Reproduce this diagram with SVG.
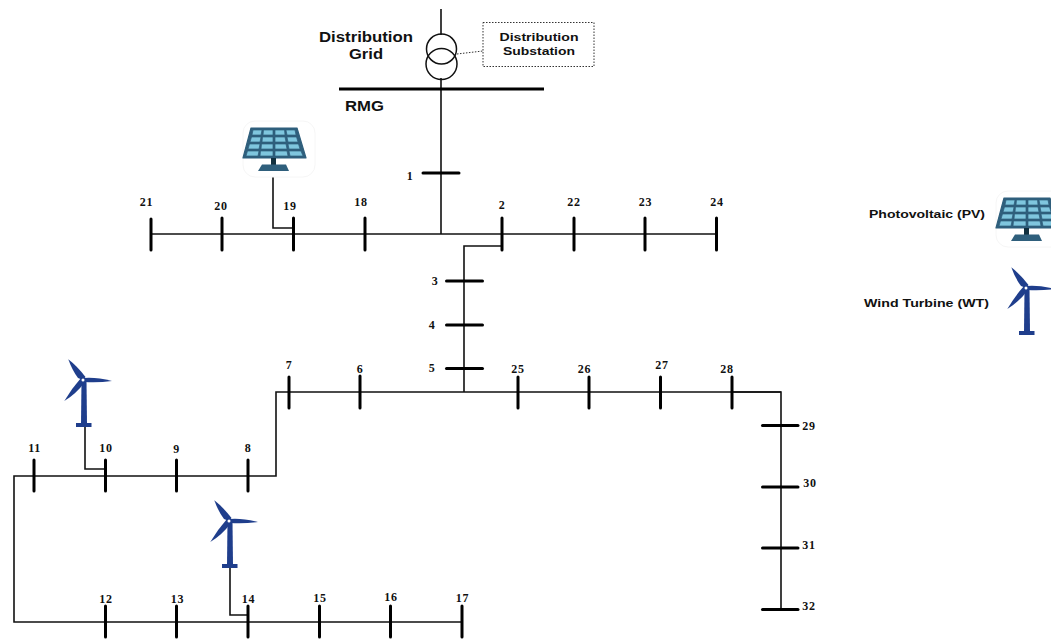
<svg xmlns="http://www.w3.org/2000/svg" xmlns:xlink="http://www.w3.org/1999/xlink" width="1051" height="640" viewBox="0 0 1051 640">
<style>
.wire{fill:none;stroke:#111;stroke-width:1.6}
.bus{stroke:#000;stroke-width:3;stroke-linecap:round}
.num{font-family:"Liberation Serif","Times New Roman",serif;font-weight:bold;font-size:12px;letter-spacing:.7px;text-anchor:middle;fill:#111}
.lab{font-family:"Liberation Sans",Arial,sans-serif;font-weight:bold;fill:#111}
.l13{font-size:14px}
.l11{font-size:11.5px}
</style>
<defs>
<g id="pv">
<rect x="243" y="121" width="72" height="56" rx="12" fill="#fff" stroke="#f6f6f6"/>
<polygon points="251,128 297,128 306,158 243,158" fill="#2f5f7c" stroke="#2f5f7c" stroke-width="1.200" stroke-linejoin="round"/>
<g fill="#7fc6de" stroke="#2f5f7c" stroke-width=".7">
<polygon points="253,130 262,130 261,135 252,135"/><polygon points="263.500,130 273,130 273,135 263,135"/><polygon points="275,130 284.500,130 285,135 275,135"/><polygon points="286,130 295,130 296,135 287,135"/>
<polygon points="251.500,137 261,137 260,142 250,142"/><polygon points="262.500,137 273,137 273,142 262,142"/><polygon points="275,137 285,137 286,142 275,142"/><polygon points="287,137 296.500,137 298,142 288,142"/>
<polygon points="249.500,144 260,144 259,149 248,149"/><polygon points="261.500,144 273,144 273,149 261,149"/><polygon points="275,144 286,144 287,149 275,149"/><polygon points="288,144 298.500,144 300,149 289,149"/>
<polygon points="247.500,151 259,151 258,156 246,156"/><polygon points="260.500,151 273,151 273,156 260,156"/><polygon points="275,151 287,151 288,156 275,156"/><polygon points="289,151 301,151 303,156 290,156"/>
</g>
<rect x="271" y="158" width="5" height="7" fill="#12303f"/>
<polygon points="262,164.500 286,164.500 289,171 258,171" fill="#2f5f7c"/>
</g>
<g id="wt" fill="#1f3e8c">
<polygon points="81.500,381 86.500,381 87,424 81,424"/>
<rect x="76" y="423" width="15.500" height="4"/>
<path d="M83,380 L78,378 Q72,370 68.300,359.300 Q77,366 85.500,377 Z"/>
<path d="M84,378 Q96,377 112,381 Q98,383 84,382 Z"/>
<path d="M81,378 L85,382 Q76,394 64.300,401 Q72,388 81,378 Z"/>
<circle cx="83" cy="380" r="1.500" fill="#fff"/>
</g>
</defs>
<rect width="1051" height="640" fill="#fff"/>

<g id="connectors">
<path class="wire" d="M441,9V35M441,78V234"/>
<path class="wire" d="M151,234H716"/>
<path class="wire" d="M273,170V228H293"/>
<path class="wire" d="M502,246H464V392"/>
<path class="wire" d="M732,392H781V609"/>
<path class="wire" d="M781,392H276V476H14V622H462"/>
<path class="wire" d="M85,426V469H105"/>
<path class="wire" d="M230,567V615H248"/>
<path d="M457,54L483,51" fill="none" stroke="#333" stroke-width="1" stroke-dasharray="1.500 1.500"/>
</g>

<g id="transformer"><circle cx="441.500" cy="49" r="15" fill="none" stroke="#111" stroke-width="1.500"/><circle cx="441.500" cy="64" r="15.500" fill="none" stroke="#111" stroke-width="1.500"/></g>
<g id="grid-label"><text class="lab l13" x="319" y="41.500" textLength="94" lengthAdjust="spacingAndGlyphs">Distribution</text><text class="lab l13" x="349" y="59" textLength="34" lengthAdjust="spacingAndGlyphs">Grid</text></g>
<g id="substation"><rect x="483" y="22.500" width="111" height="44" fill="#fff" stroke="#333" stroke-width="1" stroke-dasharray="1.500 1.500"/><text class="lab l11" x="499.500" y="41" textLength="79" lengthAdjust="spacingAndGlyphs">Distribution</text><text class="lab l11" x="503" y="55" textLength="72" lengthAdjust="spacingAndGlyphs">Substation</text></g>
<g id="rmg"><line x1="339" y1="89" x2="544" y2="89" stroke="#000" stroke-width="3"/><text class="lab l13" x="345" y="110.500" textLength="39" lengthAdjust="spacingAndGlyphs">RMG</text></g>

<g id="bus1"><line class="bus" x1="423" y1="173" x2="459" y2="173"/><text class="num" x="410" y="180">1</text></g>
<g id="bus2"><line class="bus" x1="502" y1="218" x2="502" y2="250"/><text class="num" x="502" y="209">2</text></g>
<g id="bus3"><line class="bus" x1="446.500" y1="281" x2="482.500" y2="281"/><text class="num" x="435" y="285">3</text></g>
<g id="bus4"><line class="bus" x1="446.500" y1="325" x2="482.500" y2="325"/><text class="num" x="432" y="329">4</text></g>
<g id="bus5"><line class="bus" x1="446.500" y1="368.500" x2="482.500" y2="368.500"/><text class="num" x="432" y="372">5</text></g>
<g id="bus6"><line class="bus" x1="360" y1="376" x2="360" y2="408"/><text class="num" x="360" y="373">6</text></g>
<g id="bus7"><line class="bus" x1="289" y1="377" x2="289" y2="408"/><text class="num" x="289" y="369">7</text></g>
<g id="bus8"><line class="bus" x1="248" y1="460" x2="248" y2="491"/><text class="num" x="248" y="452">8</text></g>
<g id="bus9"><line class="bus" x1="176.500" y1="460" x2="176.500" y2="491"/><text class="num" x="176.500" y="453">9</text></g>
<g id="bus10"><line class="bus" x1="105.500" y1="460" x2="105.500" y2="491"/><text class="num" x="106" y="452">10</text></g>
<g id="bus11"><line class="bus" x1="34" y1="460" x2="34" y2="491"/><text class="num" x="34.500" y="452">11</text></g>
<g id="bus12"><line class="bus" x1="105.500" y1="606" x2="105.500" y2="637"/><text class="num" x="106" y="603">12</text></g>
<g id="bus13"><line class="bus" x1="176.500" y1="606" x2="176.500" y2="637"/><text class="num" x="177.500" y="603">13</text></g>
<g id="bus14"><line class="bus" x1="248" y1="606" x2="248" y2="637"/><text class="num" x="248.500" y="603">14</text></g>
<g id="bus15"><line class="bus" x1="319.500" y1="606" x2="319.500" y2="637"/><text class="num" x="320" y="602">15</text></g>
<g id="bus16"><line class="bus" x1="390.500" y1="606" x2="390.500" y2="637"/><text class="num" x="391" y="601">16</text></g>
<g id="bus17"><line class="bus" x1="462" y1="606" x2="462" y2="637"/><text class="num" x="462.500" y="602">17</text></g>
<g id="bus18"><line class="bus" x1="365" y1="218" x2="365" y2="250"/><text class="num" x="361" y="206">18</text></g>
<g id="bus19"><line class="bus" x1="293.500" y1="218" x2="293.500" y2="250"/><text class="num" x="290" y="210">19</text></g>
<g id="bus20"><line class="bus" x1="222" y1="218" x2="222" y2="250"/><text class="num" x="221" y="210">20</text></g>
<g id="bus21"><line class="bus" x1="151" y1="219" x2="151" y2="250"/><text class="num" x="146.500" y="206">21</text></g>
<g id="bus22"><line class="bus" x1="574" y1="218" x2="574" y2="250"/><text class="num" x="574" y="206">22</text></g>
<g id="bus23"><line class="bus" x1="645" y1="218" x2="645" y2="250"/><text class="num" x="645.500" y="206">23</text></g>
<g id="bus24"><line class="bus" x1="716.500" y1="218" x2="716.500" y2="250"/><text class="num" x="717" y="206">24</text></g>
<g id="bus25"><line class="bus" x1="518" y1="377" x2="518" y2="408"/><text class="num" x="518" y="373">25</text></g>
<g id="bus26"><line class="bus" x1="589" y1="377" x2="589" y2="408"/><text class="num" x="584.500" y="373">26</text></g>
<g id="bus27"><line class="bus" x1="660.500" y1="377" x2="660.500" y2="408"/><text class="num" x="662" y="369">27</text></g>
<g id="bus28"><line class="bus" x1="732" y1="377" x2="732" y2="408"/><text class="num" x="727" y="373">28</text></g>
<g id="bus29"><line class="bus" x1="762.500" y1="425.500" x2="798" y2="425.500"/><text class="num" x="809" y="430">29</text></g>
<g id="bus30"><line class="bus" x1="762.500" y1="487" x2="798" y2="487"/><text class="num" x="810" y="487">30</text></g>
<g id="bus31"><line class="bus" x1="762.500" y1="548" x2="798" y2="548"/><text class="num" x="809" y="548.500">31</text></g>
<g id="bus32"><line class="bus" x1="762.500" y1="609.500" x2="798" y2="609.500"/><text class="num" x="809" y="610">32</text></g>

<g id="pv-19"><use href="#pv"/></g>
<g id="wt-10"><use href="#wt"/></g>
<g id="wt-14"><use href="#wt" transform="translate(146,141)"/></g>
<g id="legend-pv"><text class="lab l11" x="869" y="218" textLength="116" lengthAdjust="spacingAndGlyphs">Photovoltaic (PV)</text><use href="#pv" transform="translate(753,70)"/></g>
<g id="legend-wt"><text class="lab l11" x="864" y="306.500" textLength="125" lengthAdjust="spacingAndGlyphs">Wind Turbine (WT)</text><use href="#wt" transform="translate(943,-92)"/></g>
</svg>
